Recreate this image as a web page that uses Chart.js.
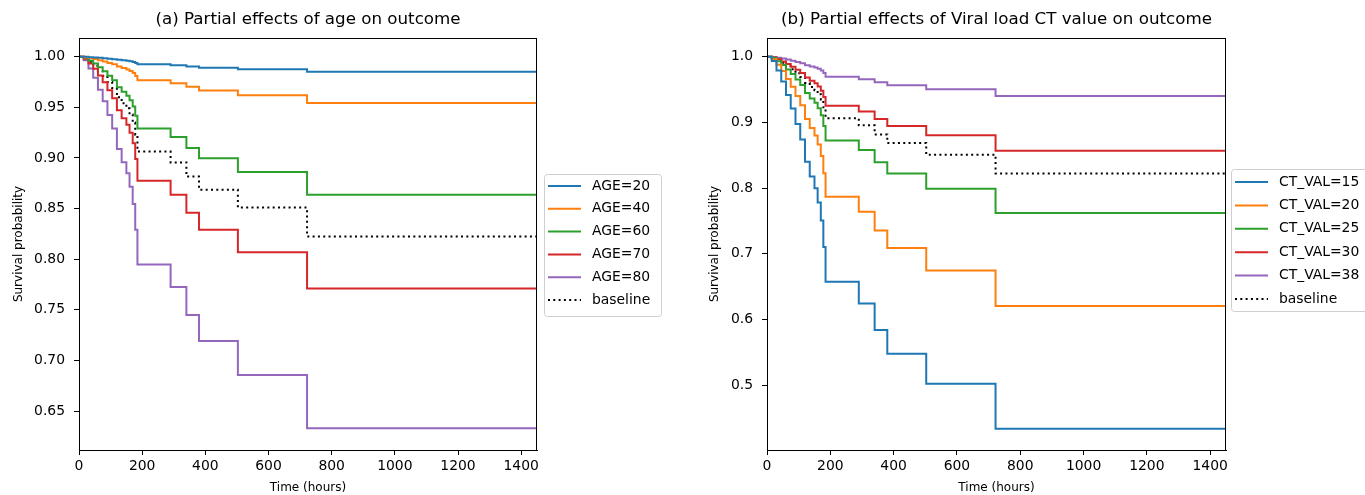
<!DOCTYPE html>
<html><head><meta charset="utf-8">
<script src="https://cdn.jsdelivr.net/npm/chart.js@4.4.1/dist/chart.umd.min.js"></script>
<style>
html,body{margin:0;padding:0;background:#fff;width:1365px;height:495px;overflow:hidden}
#wrapA{position:absolute;left:0;top:0;width:683px;height:495px}
#wrapB{position:absolute;left:683px;top:0;width:682px;height:495px}
</style></head><body>
<div id="wrapA"><canvas id="cA" width="683" height="495"></canvas></div>
<div id="wrapB"><canvas id="cB" width="682" height="495"></canvas></div>
<script>
// ---- data ----
const times = [0,15,30,45,60,75,90,105,120,135,150,160,170,178,185,290,340,380,503,722,1450];
const xTicks = [0,200,400,600,800,1000,1200,1400];
const yTicksA = [0.65,0.70,0.75,0.80,0.85,0.90,0.95,1.00];
const yTicksB = [0.5,0.6,0.7,0.8,0.9,1.0];

const labelsA = ['AGE=20','AGE=40','AGE=60','AGE=70','AGE=80','baseline'];
const age20 = [1,0.9999,0.9996,0.9993,0.9989,0.9985,0.9981,0.9976,0.9969,0.9964,0.9960,0.9955,0.9948,0.9939,0.9925,0.9915,0.9903,0.9892,0.9877,0.9851,0.9851];
const age40 = [1,0.9996,0.9988,0.9978,0.9966,0.9954,0.9939,0.9925,0.9903,0.9888,0.9875,0.9860,0.9840,0.9810,0.9767,0.9739,0.9703,0.9667,0.9620,0.9542,0.9542];
const age60 = [1,0.9989,0.9963,0.9933,0.9895,0.9857,0.9812,0.9767,0.9699,0.9653,0.9615,0.9569,0.9508,0.9417,0.9290,0.9206,0.9099,0.8997,0.8861,0.8636,0.8636];
const age70 = [1,0.9980,0.9934,0.9881,0.9814,0.9748,0.9669,0.9590,0.9472,0.9393,0.9328,0.9249,0.9145,0.8989,0.8776,0.8636,0.8459,0.8291,0.8069,0.7710,0.7710];
const age80 = [1,0.9965,0.9884,0.9792,0.9675,0.9561,0.9425,0.9290,0.9089,0.8957,0.8848,0.8716,0.8545,0.8291,0.7947,0.7725,0.7449,0.7191,0.6857,0.6329,0.6329];
const baseline = [1,0.9985,0.995,0.991,0.986,0.981,0.975,0.969,0.960,0.954,0.949,0.943,0.935,0.923,0.9064,0.8956,0.8817,0.8686,0.851,0.8224,0.8224];

const labelsB = ['CT_VAL=15','CT_VAL=20','CT_VAL=25','CT_VAL=30','CT_VAL=38','baseline'];
const ct15 = [1,0.9936,0.9789,0.9623,0.9416,0.9213,0.8976,0.8742,0.8401,0.8178,0.7999,0.7783,0.7506,0.7103,0.6575,0.6244,0.5842,0.5479,0.5022,0.4340,0.4340];
const ct20 = [1,0.9963,0.9879,0.9783,0.9662,0.9542,0.9401,0.9260,0.9052,0.8914,0.8802,0.8666,0.8488,0.8225,0.7869,0.7641,0.7355,0.7091,0.6747,0.6206,0.6206];
const ct25 = [1,0.9979,0.9931,0.9876,0.9806,0.9737,0.9654,0.9571,0.9449,0.9366,0.9299,0.9216,0.9108,0.8947,0.8724,0.8579,0.8395,0.8221,0.7992,0.7621,0.7621];
const ct30 = [1,0.9988,0.9961,0.9929,0.9889,0.9849,0.9802,0.9754,0.9683,0.9635,0.9595,0.9547,0.9483,0.9387,0.9254,0.9166,0.9053,0.8947,0.8804,0.8569,0.8569];
const ct38 = [1,0.9995,0.9984,0.9972,0.9956,0.9940,0.9921,0.9901,0.9872,0.9853,0.9837,0.9817,0.9791,0.9751,0.9695,0.9659,0.9611,0.9566,0.9505,0.9403,0.9403];

// ---- styling ----
const FAM = "'DejaVu Sans', sans-serif";
const colors = ['#1f77b4','#ff7f0e','#2ca02c','#d62728','#9467bd','#000000'];
const dashes = [[],[],[],[],[],[2,3.3]];

function makeChart(id, p) {
  const datasets = p.series.map((s, i) => ({
    label: p.labels[i],
    data: times.map((t, k) => ({x: t, y: s[k]})),
    borderColor: colors[i], backgroundColor: colors[i],
    borderWidth: 2, borderDash: dashes[i], stepped: true,
    pointRadius: 0, fill: false
  }));
  const deco = {
    id: 'deco',
    afterDatasetsDraw(chart) {
      const {ctx, chartArea: ca} = chart;
      ctx.save();
      ctx.strokeStyle = '#000'; ctx.lineWidth = 1;
      ctx.strokeRect(Math.round(ca.left) + 0.5, Math.round(ca.top) + 0.5,
        Math.round(ca.right - ca.left) - 1, Math.round(ca.bottom - ca.top));
      // title
      ctx.fillStyle = '#000';
      ctx.font = `16.7px ${FAM}`;
      ctx.textAlign = 'center'; ctx.textBaseline = 'middle';
      ctx.fillText(p.title, (ca.left + ca.right) / 2, 20);
      // legend
      const L = p.legend;
      ctx.beginPath();
      if (ctx.roundRect) ctx.roundRect(L.x + 0.5, L.y + 0.5, L.w, L.h, 3);
      else ctx.rect(L.x + 0.5, L.y + 0.5, L.w, L.h);
      ctx.fillStyle = 'rgba(255,255,255,0.85)'; ctx.fill();
      ctx.strokeStyle = '#cfcfcf'; ctx.lineWidth = 1; ctx.stroke();
      ctx.font = `13.9px ${FAM}`;
      ctx.textAlign = 'left';
      chart.data.datasets.forEach((ds, i) => {
        const y = L.y + L.row0 + i * L.rowH;
        ctx.beginPath();
        ctx.setLineDash(ds.borderDash || []);
        ctx.strokeStyle = ds.borderColor; ctx.lineWidth = 2;
        ctx.moveTo(L.x + 4, y); ctx.lineTo(L.x + 37, y); ctx.stroke();
        ctx.setLineDash([]);
        ctx.fillStyle = '#000';
        ctx.fillText(ds.label, L.x + 48, y);
      });
      ctx.restore();
    }
  };
  return new Chart(document.getElementById(id), {
    type: 'line',
    data: {datasets},
    plugins: [deco],
    options: {
      responsive: false, animation: false,
      layout: {padding: {top: 38, right: p.padRight, left: 0, bottom: 0}},
      plugins: {legend: {display: false}, tooltip: {enabled: false}},
      scales: {
        x: {
          type: 'linear', min: 0, max: times[times.length - 1],
          afterBuildTicks: s => { s.ticks = xTicks.map(v => ({value: v})); },
          afterFit: s => { s.height = 45; },
          grid: {drawOnChartArea: false, drawTicks: true, tickLength: 5, color: '#000'},
          border: {display: true, color: '#000'},
          ticks: {color: '#000', padding: 3, autoSkip: false, maxRotation: 0,
                  font: {family: FAM, size: 13.9}, callback: v => String(v)},
          title: {display: true, text: 'Time (hours)', color: '#000',
                  font: {family: FAM, size: 12}, padding: {top: 0, bottom: 0}}
        },
        y: {
          type: 'linear', min: p.yMin, max: p.yMax,
          afterBuildTicks: s => { s.ticks = p.yTicks.map(v => ({value: v})); },
          afterFit: s => { s.width = p.yWidth; },
          grid: {drawOnChartArea: false, drawTicks: true, tickLength: 5, color: '#000'},
          border: {display: true, color: '#000'},
          ticks: {color: '#000', padding: 9, autoSkip: false,
                  font: {family: FAM, size: 13.9}, callback: v => v.toFixed(p.dec)},
          title: {display: true, text: 'Survival probability', color: '#000',
                  font: {family: FAM, size: 12}, padding: {top: p.yTitlePad, bottom: 0}}
        }
      }
    }
  });
}

makeChart('cA', {
  title: '(a) Partial effects of age on outcome',
  labels: labelsA, series: [age20, age40, age60, age70, age80, baseline],
  yMin: 0.6115, yMax: 1.0185, yTicks: yTicksA, dec: 2,
  yWidth: 79, yTitlePad: 12, padRight: 146,
  legend: {x: 544, y: 174, w: 117, h: 142, row0: 12, rowH: 22.8}
});
makeChart('cB', {
  title: '(b) Partial effects of Viral load CT value on outcome',
  labels: labelsB, series: [ct15, ct20, ct25, ct30, ct38, baseline],
  yMin: 0.4015, yMax: 1.0285, yTicks: yTicksB, dec: 1,
  yWidth: 84, yTitlePad: 25, padRight: 139,
  legend: {x: 548, y: 169, w: 140, h: 142, row0: 13, rowH: 23.4}
});
</script>
</body></html>
